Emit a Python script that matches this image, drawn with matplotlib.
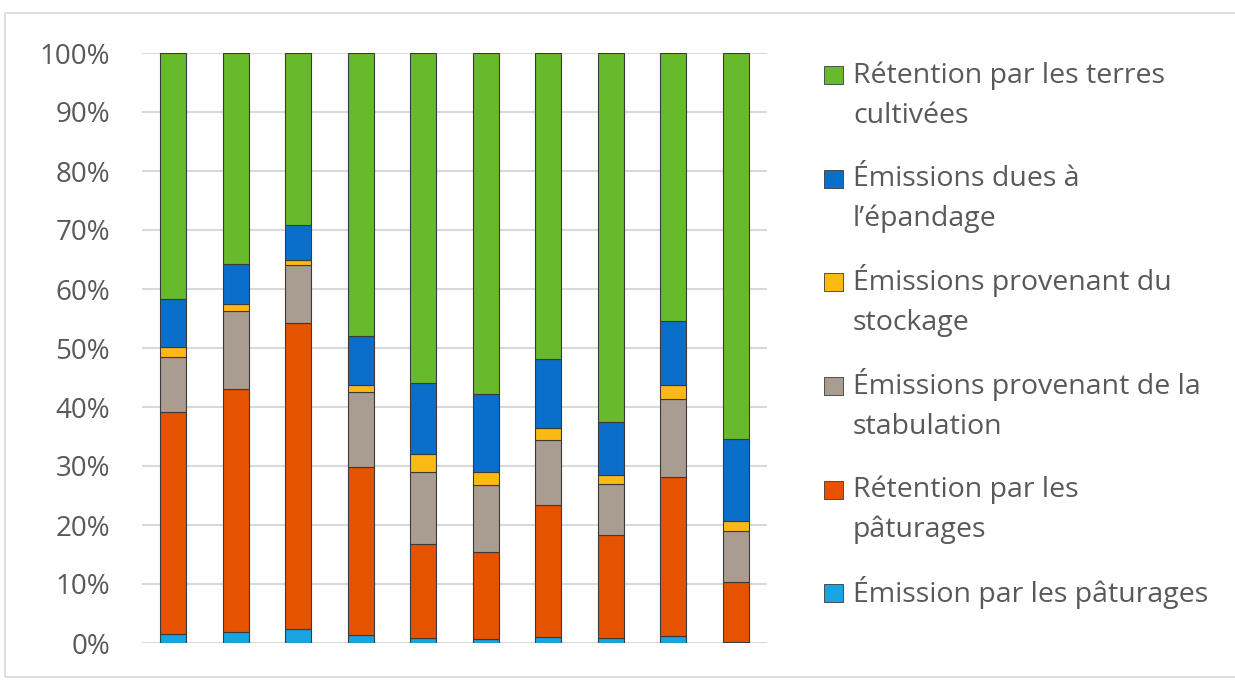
import matplotlib.pyplot as plt
from matplotlib.patches import Rectangle
from matplotlib.ticker import PercentFormatter
import numpy as np

plt.rcParams['font.family'] = ['Open Sans', 'DejaVu Sans']

# shares (%) for each of the 10 bars, bottom to top
emission_paturages = [1.6, 1.9, 2.4, 1.4, 0.8, 0.6, 1.1, 0.8, 1.2, 0.2]
retention_paturages = [37.6, 41.1, 51.8, 28.5, 16.0, 14.9, 22.3, 17.5, 26.9, 10.1]
emission_stabulation = [9.3, 13.3, 9.8, 12.6, 12.1, 11.2, 11.0, 8.6, 13.3, 8.7]
emission_stockage = [1.7, 1.1, 0.9, 1.3, 3.2, 2.3, 2.1, 1.6, 2.4, 1.7]
emission_epandage = [8.1, 6.9, 5.9, 8.2, 12.0, 13.2, 11.6, 9.0, 10.8, 13.8]
retention_cultures = [41.7, 35.7, 29.2, 48.0, 55.9, 57.8, 51.9, 62.5, 45.4, 65.5]

series = [
    ("Émission par les pâturages", emission_paturages, "#1AA3E0"),
    ("Rétention par les\npâturages", retention_paturages, "#E65300"),
    ("Émissions provenant de la\nstabulation", emission_stabulation, "#A99C91"),
    ("Émissions provenant du\nstockage", emission_stockage, "#FDB913"),
    ("Émissions dues à\nl\u2019épandage", emission_epandage, "#0A6FCB"),
    ("Rétention par les terres\ncultivées", retention_cultures, "#67BA2C"),
]

W, H = 1235, 682
fig = plt.figure(figsize=(W / 100, H / 100), dpi=100)
ax = fig.add_axes([142 / W, 1 - 643 / H, (767 - 142) / W, (643 - 53) / H])

x = np.arange(10)
bottom = np.zeros(10)
for label, vals, color in series:
    v = np.array(vals) / 100
    ax.bar(x, v, width=0.41, bottom=bottom, color=color,
           edgecolor="#3a3a3a", linewidth=0.8, zorder=3)
    bottom += v

ax.set_xlim(-0.5, 9.5)
ax.set_ylim(0, 1)
ax.set_yticks(np.arange(0, 1.01, 0.1))
ax.yaxis.set_major_formatter(PercentFormatter(1.0, decimals=0))
ax.set_xticks([])
ax.grid(axis="y", color="#d9d9d9", linewidth=1.5, zorder=0)
for s in ax.spines.values():
    s.set_visible(False)
ax.tick_params(axis="y", length=0, pad=23, labelsize=20, labelcolor="#595959")

# legend drawn by hand so the swatch sits on the first text line
baselines = [84, 187.5, 291, 395, 498.5, 602]
line_gap = 39
for (label, vals, color), by in zip(reversed(series), baselines):
    fig.add_artist(Rectangle((824 / W, 1 - by / H), 19 / W, 18 / H,
                             facecolor=color, edgecolor="#3a3a3a", linewidth=0.6,
                             transform=fig.transFigure))
    # va="baseline" pins the last line, so shift down by the extra lines
    last = by + line_gap * label.count("\n")
    fig.text(853 / W, 1 - last / H, label, fontsize=20.5, color="#595959",
             va="baseline", ha="left", linespacing=1.57)

# outer frame
fig.add_artist(Rectangle((5 / W, 1 - 677 / H), 1.2, (677 - 13) / H,
                         facecolor="none", edgecolor="#d9d9d9", linewidth=1.2,
                         transform=fig.transFigure))

fig.savefig("out.png", dpi=100)
